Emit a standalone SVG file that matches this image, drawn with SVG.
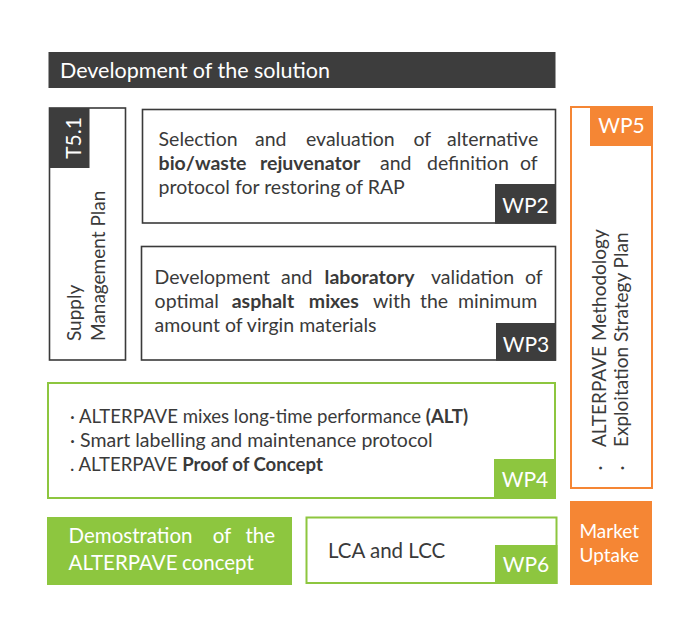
<svg xmlns="http://www.w3.org/2000/svg" width="700" height="627" viewBox="0 0 700 627">
<style>
text{font-family:Lato,"Open Sans","Liberation Sans",sans-serif;}
.body{font-size:19.5px;fill:#3a3a3a;}
.sm{font-size:18.6px;}
.b{font-weight:bold;}
.white{fill:#fff;}
.tab{font-size:21px;fill:#fff;text-anchor:middle;}
.boxK{fill:#fff;stroke:#3a3a3a;stroke-width:1.6;}
.boxG{fill:#fff;stroke:#8dc63f;stroke-width:2;}
.boxO{fill:#fff;stroke:#f58634;stroke-width:2;}
.dark{fill:#3d3d3d;}
.green{fill:#8dc63f;}
.orange{fill:#f58634;}
.rot{font-size:19px;fill:#3a3a3a;}
</style>
<rect width="700" height="627" fill="#fff"/>

<g id="header">
<rect class="dark" x="48.5" y="52" width="507" height="36"/>
<text x="60" y="78" class="white" font-size="21.5">Development of the solution</text>
</g>

<g id="t51">
<rect class="boxK" x="49.5" y="108" width="76" height="252"/>
<rect class="dark" x="49.5" y="108" width="40" height="60"/>
<text class="tab" transform="translate(81,138) rotate(-90)">T5.1</text>
<text class="rot" transform="translate(80.5,341) rotate(-90)">Supply</text>
<text class="rot" transform="translate(105,341) rotate(-90)">Management Plan</text>
</g>

<g id="wp2">
<rect class="boxK" x="142.5" y="109.5" width="413" height="113.5"/>
<rect class="dark" x="495" y="184" width="61" height="39.8"/>
<text class="tab" x="525.5" y="213">WP2</text>
<text class="body" y="146"><tspan x="158.6">Selection</tspan><tspan x="255">and</tspan><tspan x="306">evaluation</tspan><tspan x="413.5">of</tspan><tspan x="447">alternative</tspan></text>
<text class="body" y="170"><tspan x="158.6" class="b">bio/waste</tspan><tspan x="260" class="b">rejuvenator</tspan><tspan x="380">and</tspan><tspan x="427">definition</tspan><tspan x="520">of</tspan></text>
<text class="body" x="158.6" y="194">protocol for restoring of RAP</text>
</g>

<g id="wp3">
<rect class="boxK" x="141.5" y="246.5" width="414" height="113.5"/>
<rect class="dark" x="496" y="323" width="60" height="37.8"/>
<text class="tab" x="526" y="352">WP3</text>
<text class="body" y="284"><tspan x="154.6">Development</tspan><tspan x="281">and</tspan><tspan x="324.6" class="b">laboratory</tspan><tspan x="431">validation</tspan><tspan x="525">of</tspan></text>
<text class="body" y="308"><tspan x="154.6">optimal</tspan><tspan x="231.7" class="b">asphalt</tspan><tspan x="308.8" class="b">mixes</tspan><tspan x="373">with</tspan><tspan x="420">the</tspan><tspan x="458">minimum</tspan></text>
<text class="body" x="154.6" y="332">amount of virgin materials</text>
</g>

<g id="wp4">
<rect class="boxG" x="48" y="383" width="507" height="115"/>
<rect class="green" x="494" y="459" width="62" height="40"/>
<text class="tab" x="525" y="487">WP4</text>
<text class="body sm" x="70" y="423">· ALTERPAVE mixes long-time performance <tspan class="b">(ALT)</tspan></text>
<text class="body" x="70" y="447">· Smart labelling and maintenance protocol</text>
<text class="body sm" x="70" y="471">. ALTERPAVE <tspan class="b">Proof of Concept</tspan></text>
</g>

<g id="wp5">
<rect class="boxO" x="571" y="107" width="81" height="381"/>
<rect class="orange" x="590" y="106" width="63" height="40"/>
<text class="tab" x="621.5" y="133">WP5</text>
<text class="rot" transform="translate(605.5,447) rotate(-90)">ALTERPAVE Methodology</text>
<text class="rot" transform="translate(628,447) rotate(-90)">Exploitation Strategy Plan</text>
<text class="rot" text-anchor="middle" transform="translate(605.5,468) rotate(-90)">·</text>
<text class="rot" text-anchor="middle" transform="translate(628,468) rotate(-90)">·</text>
</g>

<g id="demo">
<rect class="green" x="47" y="517" width="245" height="68"/>
<text class="white" font-size="20.5" y="543"><tspan x="68.5">Demostration</tspan><tspan x="212.7">of</tspan><tspan x="245.5">the</tspan></text>
<text class="white" font-size="20.5" y="570"><tspan x="68.5">ALTERPAVE</tspan><tspan x="182">concept</tspan></text>
</g>

<g id="wp6">
<rect class="boxG" x="306.5" y="517.5" width="250" height="65.5"/>
<rect class="green" x="495" y="545" width="62.5" height="39"/>
<text class="tab" x="526" y="572">WP6</text>
<text x="328" y="558" font-size="20.5" fill="#3a3a3a">LCA and LCC</text>
</g>

<g id="market">
<rect class="orange" x="570" y="501" width="82" height="84"/>
<text class="white" font-size="19" x="579.5" y="538">Market</text>
<text class="white" font-size="19" x="579.5" y="562">Uptake</text>
</g>

<g id="connectors"/>
</svg>
